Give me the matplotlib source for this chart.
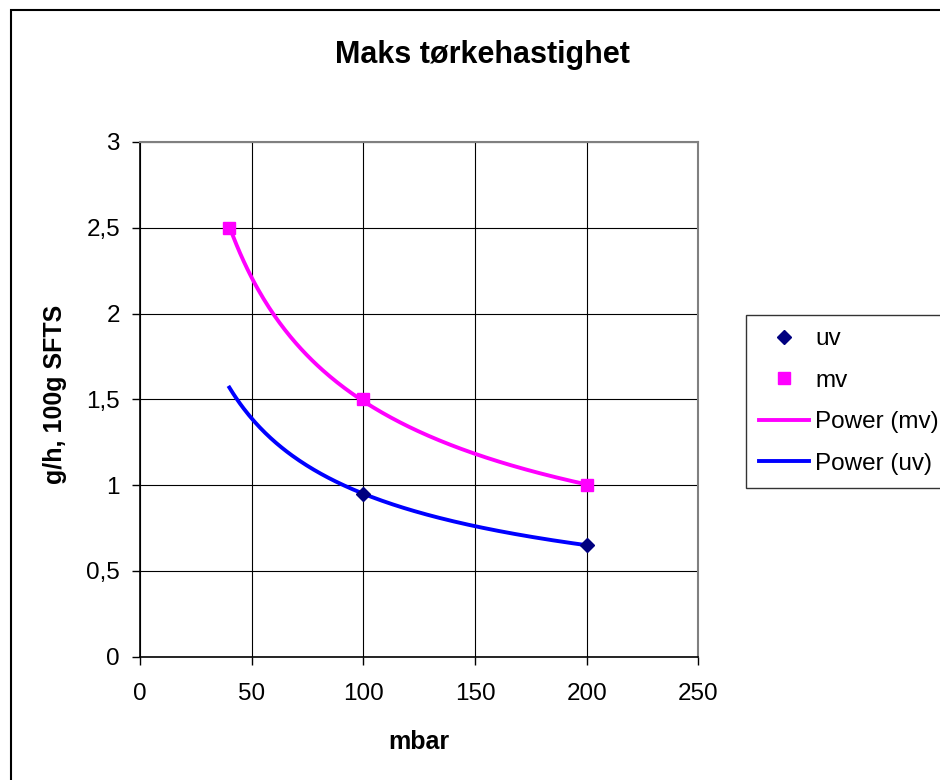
import matplotlib
matplotlib.use("Agg")
from matplotlib import pyplot as plt
from matplotlib.patches import Rectangle
import numpy as np

plt.rcParams['font.family'] = ['Liberation Sans', 'DejaVu Sans']

# measured drying rates
uv_x = [100, 200]
uv_y = [0.95, 0.65]
mv_x = [40, 100, 200]
mv_y = [2.5, 1.5, 1.0]
trend_start = 40  # uv trendline is drawn over the full pressure range

x_ticks = [0, 50, 100, 150, 200, 250]
y_ticks = [0, 0.5, 1, 1.5, 2, 2.5, 3]
y_tick_labels = ["0", "0,5", "1", "1,5", "2", "2,5", "3"]


def power_fit(x, y):
    """Least-squares fit of y = a * x^b in log-log space."""
    b, log_a = np.polyfit(np.log(x), np.log(y), 1)
    return np.exp(log_a), b


fig = plt.figure(figsize=(9.4, 7.8), dpi=100)
ax = fig.add_axes([0.149, 0.158, 0.594, 0.660])

# chart frame around everything
fig.patches.append(Rectangle((0.012, -0.05), 1.1, 1.037, transform=fig.transFigure,
                             fill=False, edgecolor="black", linewidth=1.5))

a_mv, b_mv = power_fit(mv_x, mv_y)
a_uv, b_uv = power_fit(uv_x, uv_y)
xs_mv = np.linspace(min(mv_x), max(mv_x), 200)
xs_uv = np.linspace(trend_start, max(uv_x), 200)

ax.plot(uv_x, uv_y, linestyle="none", marker="D", markersize=7.5,
        color="#000080", label="uv", zorder=4)
ax.plot(mv_x, mv_y, linestyle="none", marker="s", markersize=9,
        color="#FF00FF", label="mv", zorder=4)
ax.plot(xs_mv, a_mv * xs_mv ** b_mv, color="#FF00FF", linewidth=2.8,
        label="Power (mv)", zorder=3)
ax.plot(xs_uv, a_uv * xs_uv ** b_uv, color="#0000FF", linewidth=2.8,
        label="Power (uv)", zorder=3)

ax.set_xlim(0, 250)
ax.set_ylim(0, 3)
ax.set_xticks(x_ticks)
ax.set_yticks(y_ticks)
ax.set_yticklabels(y_tick_labels)
ax.grid(True, color="black", linewidth=0.8)
ax.set_axisbelow(True)
ax.tick_params(direction="out", length=6, width=1, labelsize=17.5)
ax.tick_params(axis="y", pad=8.5)
ax.tick_params(axis="x", pad=13)

for side in ("top", "right"):
    ax.spines[side].set_color("#808080")
    ax.spines[side].set_linewidth(1.5)
for side in ("left", "bottom"):
    ax.spines[side].set_color("black")
    ax.spines[side].set_linewidth(1.2)

ax.set_xlabel("mbar", fontsize=18, fontweight="bold")
ax.set_ylabel("g/h, 100g SFTS", fontsize=18, fontweight="bold")
ax.xaxis.set_label_coords(0.5, -0.165)
ax.xaxis.label.set_va("center")
ax.yaxis.set_label_coords(-0.152, 0.51)
ax.yaxis.label.set_va("center")

fig.text(0.513, 0.919, "Maks tørkehastighet", ha="center", va="baseline",
         fontsize=22, fontweight="bold")

leg = fig.legend(loc="upper left", bbox_to_anchor=(0.7936, 0.5962), fontsize=17.5,
                 frameon=True, fancybox=False, edgecolor="black", borderpad=0.55,
                 labelspacing=0.8, handlelength=2.05, handletextpad=0.25,
                 borderaxespad=0)
leg.get_frame().set_linewidth(1.0)

fig.savefig("out.png", dpi=100, facecolor="white")
